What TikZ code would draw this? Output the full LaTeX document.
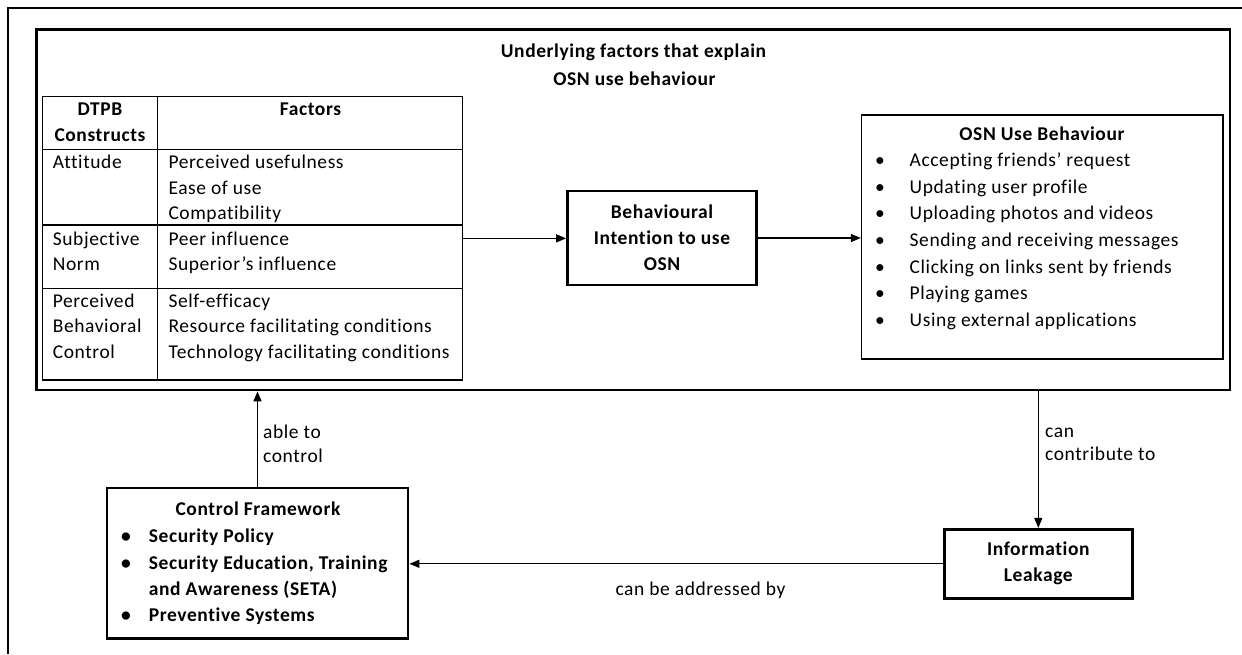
\documentclass[tikz,border=0pt]{standalone}
\usepackage{fontspec}
\setmainfont{Carlito}[LetterSpace=3, Ligatures={NoCommon}]
\usetikzlibrary{arrows.meta}
\begin{document}
\begin{tikzpicture}[x=1pt,y=-1pt,
  every node/.style={font=\fontsize{19.5}{26}\selectfont, inner sep=0pt},
  thinline/.style={line width=1.2pt},
  thickbox/.style={draw, rectangle, line width=2.8pt, inner sep=0pt, align=center},
  thinbox/.style={draw, rectangle, line width=1.2pt, inner sep=0pt},
  txt/.style={anchor=base west},
  ctxt/.style={anchor=base},
  bold/.style={font=\fontsize{19.5}{26}\selectfont\bfseries},
  conn/.style={line width=1.3pt, -{Triangle[length=10pt,width=8pt]}},
]
\useasboundingbox (0,0) rectangle (1242,654);
% page frame
\draw[line width=2pt] (7.8,654) -- (7.8,7.8) -- (1242,7.8);

% main box
\node[thickbox, minimum width=1193.7, minimum height=360.3] (main) at (633.15,209.85) {};
\node[ctxt, bold] (title1) at (633.5,57) {Underlying factors that explain};
\node[ctxt, bold] (title2) at (634.5,85) {OSN use behaviour};

% table
\node[thinbox, minimum width=420.4, minimum height=283.3] (tbl) at (252.5,238.35) {};
\draw[thinline] (157.7,96.7) -- (157.7,380);
\draw[thinline] (42.3,149.3) -- (462.7,149.3);
\draw[thinline] (42.3,225) -- (462.7,225);
\draw[thinline] (42.3,288.5) -- (462.7,288.5);
\node[ctxt, bold] (h1a) at (100,115.5) {DTPB};
\node[ctxt, bold] (h1b) at (100,141) {Constructs};
\node[ctxt, bold] (h2) at (310.5,115.5) {Factors};
\node[txt] (c1) at (52.7,168) {Attitude};
\node[txt] (c2a) at (52.7,245) {Subjective};
\node[txt] (c2b) at (52.7,270.5) {Norm};
\node[txt] (c3a) at (52.7,307) {Perceived};
\node[txt] (c3b) at (52.7,332.5) {Behavioral};
\node[txt] (c3c) at (52.7,358) {Control};
\node[txt] (f1) at (168.3,168) {Perceived usefulness};
\node[txt] (f2) at (168.3,194) {Ease of use};
\node[txt] (f3) at (168.3,219.5) {Compatibility};
\node[txt] (f4) at (168.3,245) {Peer influence};
\node[txt] (f5) at (168.3,270.5) {Superior’s influence};
\node[txt] (f6) at (168.3,307) {Self-efficacy};
\node[txt] (f7) at (168.3,332.5) {Resource facilitating conditions};
\node[txt] (f8) at (168.3,358) {Technology facilitating conditions};

% behavioural intention
\node[thickbox, bold, minimum width=189, minimum height=94] (bi) at (662,238)
  {Behavioural\\Intention to use\\OSN};

% OSN use behaviour
\node[thinbox, minimum width=361.5, minimum height=244] (osn) at (1042.2,237) {};
\node[ctxt, bold] (osnt) at (1042,140) {OSN Use Behaviour};
\foreach \t [count=\i from 1] in {Accepting friends’ request, Updating user profile,
   Uploading photos and videos, Sending and receiving messages,
   Clicking on links sent by friends, Playing games, Using external applications}{
  \node[ctxt] (ob\i) at (880,140+26.65*\i) {\textbullet};
  \node[txt] (o\i) at (909.5,140+26.65*\i) {\t};
}

% information leakage
\node[thickbox, bold, minimum width=188, minimum height=69] (leak) at (1038.3,563.8)
  {Information\\Leakage};

% control framework
\node[thickbox, minimum width=301, minimum height=150.5] (ctrl) at (257.5,563.2) {};
\node[ctxt, bold] (ctrlt) at (258,515.5) {Control Framework};
\node[ctxt, bold] (cb1) at (126,542.5) {\textbullet};
\node[txt, bold] (cl1) at (148.7,542.5) {Security Policy};
\node[ctxt, bold] (cb2) at (126,569.5) {\textbullet};
\node[txt, bold] (cl2) at (148.7,569.5) {Security Education, Training};
\node[txt, bold] (cl3) at (148.7,595.5) {and Awareness (SETA)};
\node[ctxt, bold] (cb4) at (126,621.5) {\textbullet};
\node[txt, bold] (cl4) at (148.7,621.5) {Preventive Systems};

% connectors
\draw[conn] (tbl.east) -- (tbl.east -| bi.west);
\draw[conn] (bi.east) -- (bi.east -| osn.west);
\draw[conn] (main.south -| leak.north) -- (leak.north);
\draw[conn] (leak.west) -- (leak.west -| ctrl.east);
\draw[conn] (ctrl.north) -- (ctrl.north |- main.south);

% connector labels
\node[txt] (l1a) at (263,438) {able to};
\node[txt] (l1b) at (263,462) {control};
\node[txt] (l2a) at (1045,437) {can};
\node[txt] (l2b) at (1045,460.5) {contribute to};
\node[ctxt] (l3) at (700.5,595) {can be addressed by};
\end{tikzpicture}
\end{document}
